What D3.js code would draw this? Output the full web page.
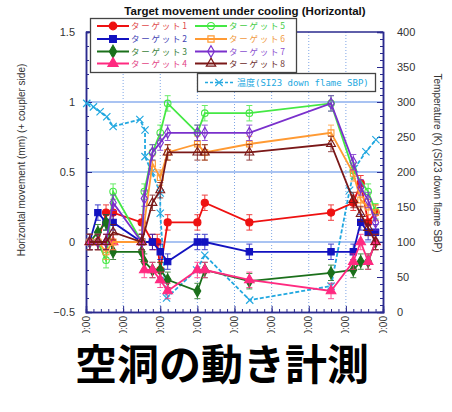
<!DOCTYPE html>
<html>
<head>
<meta charset="utf-8">
<script src="https://cdn.jsdelivr.net/npm/d3@7"></script>
<style>
  body { margin: 0; background: #fff; }
  svg { display: block; }
</style>
</head>
<body>
<svg id="chart" width="452" height="412"></svg>
<script>
// measurement times, in x tick units
const times = [0.1, 0.32, 0.54, 0.73, 1.5, 1.57, 1.79, 1.92, 2.0, 2.2, 3.0, 3.2, 4.4, 6.6, 7.2, 7.4, 7.6, 7.8];

const target1 = [0, 0, 0.21, 0.21, 0.14, null, 0, 0, -0.2, 0.14, 0.14, 0.28, 0.14, 0.21, 0.28, 0.42, 0.14, 0.21];
const target2 = [0, 0.21, 0.14, 0.14, 0, null, 0, null, -0.07, -0.14, 0, 0, -0.07, -0.07, -0.07, 0.14, 0.07, 0.07];
const target3 = [0, 0.07, 0.14, -0.07, -0.07, -0.14, -0.2, null, -0.2, -0.27, -0.35, -0.2, -0.28, -0.22, -0.2, -0.14, -0.14, 0];
const target4 = [0, 0, 0, 0, 0, -0.2, -0.2, null, -0.27, -0.35, -0.2, -0.2, -0.27, -0.35, -0.14, 0, -0.14, 0];
const target5 = [0, 0, -0.13, 0.36, 0, 0.36, 0.64, null, 0.78, 0.99, 0.78, 0.92, 0.92, 0.99, 0.51, null, 0.36, 0.22];
const target6 = [0, 0, -0.07, 0, 0, null, 0.56, null, 0.46, 0.64, 0.70, 0.64, 0.70, 0.78, 0.49, 0.3, 0.25, 0.21];
const target7 = [0, 0, 0, 0.28, 0, 0.31, 0.64, null, 0.71, 0.78, 0.78, 0.78, 0.78, 0.99, 0.57, 0.39, 0.3, 0.14];
const target8 = [0, 0, 0, 0.07, 0, null, 0.28, null, 0.37, 0.64, 0.64, 0.64, 0.64, 0.70, 0.3, 0.2, 0.1, 0];
const errBar = 0.055;

// temperature (K), right axis
const tempTimes = [0.02, 0.2, 0.38, 0.56, 0.73, 1.45, 1.59, 1.59, 1.77, 2.0, 2.0, 2.12, 2.17, 2.98, 3.2, 4.41, 6.6, 7.1, 7.23, 7.54, 7.81];
const tempK = [298, 293, 286, 279, 265, 275, 260, 222, 200, 170, 141, 46, 20, 60, 81, 17, 37, 174, 205, 229, 246];

const seriesNames = ["ターゲット1", "ターゲット2", "ターゲット3", "ターゲット4", "ターゲット5", "ターゲット6", "ターゲット7", "ターゲット8"];
const tempName = "温度(SI23 down flame SBP)";

const xTickLabels = ["2008/02/18 00:00", "2008/02/19 00:00", "2008/02/20 00:00", "2/21 00:00", "2/22 00:00",
  "2008/02/23 00:00", "2008/02/24 00:00", "2008/02/25 00:00", "2008/02/26 00:00"];
const yTicks = [-0.5, 0, 0.5, 1, 1.5];
const tTicks = [0, 50, 100, 150, 200, 250, 300, 350, 400];

const title = "Target movement under cooling (Horizontal)";
const yTitle = "Horizontal movement (mm) (+ coupler side)";
const tTitle = "Temperature (K) (SI23 down flame SBP)";
const bigText = "空洞の動き計測";

const colors = ["#ee1111", "#1212c0", "#1b701b", "#ff2a80", "#44e844", "#ff9a33", "#7a30cc", "#7a1818"];
const textColors = ["#e04a4a", "#4444b4", "#3a7f3a", "#e24486", "#44cc44", "#f09a40", "#8a50d0", "#6a2a2a"];
const symbols = [d3.symbolCircle, d3.symbolSquare, d3.symbolDiamond, d3.symbolTriangle,
  d3.symbolCircle, d3.symbolSquare, d3.symbolDiamond, d3.symbolTriangle];
const filled = [true, true, true, true, false, false, false, false];
const tempColor = "#22a8e0";

const allTargets = [target1, target2, target3, target4, target5, target6, target7, target8];

const svg = d3.select("#chart");
const pLeft = 86, pRight = 383, pTop = 32, pBottom = 312;

const x = d3.scaleLinear().domain([0, 8]).range([pLeft, pRight]);
const y = d3.scaleLinear().domain([-0.5, 1.5]).range([pBottom, pTop]);
const yT = d3.scaleLinear().domain([0, 400]).range([pBottom, pTop]);

// grid
svg.append("g").selectAll("line")
  .data(d3.range(1, 8))
  .enter().append("line")
  .attr("x1", d => x(d)).attr("x2", d => x(d))
  .attr("y1", pTop).attr("y2", pBottom)
  .attr("stroke", "#7fa6e6").attr("stroke-width", 1)
  .attr("stroke-dasharray", "1,2");

svg.append("g").selectAll("line")
  .data([0, 0.5, 1])
  .enter().append("line")
  .attr("x1", pLeft).attr("x2", pRight)
  .attr("y1", d => y(d)).attr("y2", d => y(d))
  .attr("stroke", "#a9c3f2").attr("stroke-width", 2);

// axes
const axisColor = "#2a2a8e";
function styleAxis(g) {
  g.select(".domain").attr("stroke", axisColor).attr("stroke-width", 1.5);
  g.selectAll(".tick line").attr("stroke", axisColor);
  g.selectAll("text").attr("fill", "#333").attr("font-family", "Liberation Sans, Arial, sans-serif");
}

svg.append("g").attr("transform", `translate(${pLeft},0)`)
  .call(d3.axisLeft(y).tickValues(d3.range(-0.5, 1.51, 0.1)).tickSize(-3).tickFormat(""))
  .call(styleAxis);
svg.append("g").attr("transform", `translate(${pLeft},0)`)
  .call(d3.axisLeft(y).tickValues(yTicks).tickSize(-6).tickPadding(11).tickFormat(d3.format("")))
  .call(styleAxis)
  .call(g => g.selectAll("text").attr("font-size", 11));

svg.append("g").attr("transform", `translate(${pRight},0)`)
  .call(d3.axisRight(yT).tickValues(d3.range(0, 401, 10)).tickSize(-3).tickFormat(""))
  .call(styleAxis);
svg.append("g").attr("transform", `translate(${pRight},0)`)
  .call(d3.axisRight(yT).tickValues(tTicks).tickSize(-6).tickPadding(14))
  .call(styleAxis)
  .call(g => g.selectAll("text").attr("font-size", 11));

svg.append("g").attr("transform", `translate(0,${pBottom})`)
  .call(d3.axisBottom(x).tickValues(d3.range(0, 8.01, 0.2)).tickSize(-3).tickFormat(""))
  .call(styleAxis);
svg.append("g").attr("transform", `translate(0,${pBottom})`)
  .call(d3.axisBottom(x).tickValues(d3.range(0, 9)).tickSize(-6).tickFormat(""))
  .call(styleAxis);

svg.append("line")
  .attr("x1", pLeft).attr("x2", pRight).attr("y1", pTop).attr("y2", pTop)
  .attr("stroke", axisColor).attr("stroke-width", 1.5);

// rotated x tick labels
svg.append("g").selectAll("text")
  .data(xTickLabels)
  .enter().append("text")
  .attr("transform", (d, i) => `translate(${x(i) + 3.5},316) rotate(-90)`)
  .attr("text-anchor", "end")
  .attr("font-size", 10)
  .attr("font-family", "Liberation Sans, Arial, sans-serif")
  .attr("fill", "#333")
  .text(d => d);

// titles
svg.append("text")
  .attr("x", 245).attr("y", 15)
  .attr("text-anchor", "middle")
  .attr("font-size", 11.5).attr("font-weight", "bold")
  .attr("font-family", "Liberation Sans, Arial, sans-serif")
  .attr("fill", "#111")
  .text(title);

svg.append("text")
  .attr("transform", "translate(25,160) rotate(-90)")
  .attr("text-anchor", "middle")
  .attr("font-size", 10)
  .attr("font-family", "Liberation Sans, Arial, sans-serif")
  .attr("fill", "#333")
  .text(yTitle);

svg.append("text")
  .attr("transform", "translate(434,163) rotate(90)")
  .attr("text-anchor", "middle")
  .attr("font-size", 10)
  .attr("font-family", "Liberation Sans, Arial, sans-serif")
  .attr("fill", "#333")
  .text(tTitle);

// temperature line
const tempPts = tempTimes.map((t, i) => ({ t, v: tempK[i] }));
svg.append("path")
  .datum(tempPts)
  .attr("fill", "none")
  .attr("stroke", tempColor)
  .attr("stroke-width", 1.8)
  .attr("stroke-dasharray", "4,2")
  .attr("d", d3.line().x(d => x(d.t)).y(d => yT(d.v)));

const cross = d3.symbol().type(d3.symbolX).size(36);
svg.append("g").selectAll("path")
  .data(tempPts)
  .enter().append("path")
  .attr("transform", d => `translate(${x(d.t)},${yT(d.v)})`)
  .attr("d", cross)
  .attr("fill", "none")
  .attr("stroke", tempColor)
  .attr("stroke-width", 1.2);

// target series
const line = d3.line().x(d => x(d.t)).y(d => y(d.v));
allTargets.forEach((vals, k) => {
  const pts = times.map((t, i) => ({ t, v: vals[i] })).filter(d => d.v !== null);
  const g = svg.append("g");
  g.append("path")
    .datum(pts)
    .attr("fill", "none")
    .attr("stroke", colors[k])
    .attr("stroke-width", 1.8)
    .attr("d", line);

  const eb = g.selectAll(".eb").data(pts).enter().append("g").attr("class", "eb")
    .attr("stroke", colors[k]).attr("stroke-width", 1).attr("opacity", 0.8);
  eb.append("line")
    .attr("x1", d => x(d.t)).attr("x2", d => x(d.t))
    .attr("y1", d => y(d.v - errBar)).attr("y2", d => y(d.v + errBar));
  eb.append("line")
    .attr("x1", d => x(d.t) - 3).attr("x2", d => x(d.t) + 3)
    .attr("y1", d => y(d.v + errBar)).attr("y2", d => y(d.v + errBar));
  eb.append("line")
    .attr("x1", d => x(d.t) - 3).attr("x2", d => x(d.t) + 3)
    .attr("y1", d => y(d.v - errBar)).attr("y2", d => y(d.v - errBar));

  g.selectAll(".mk").data(pts).enter().append("path").attr("class", "mk")
    .attr("transform", d => `translate(${x(d.t)},${y(d.v)})`)
    .attr("d", d3.symbol().type(symbols[k]).size(filled[k] ? 40 : 34))
    .attr("fill", filled[k] ? colors[k] : "none")
    .attr("stroke", colors[k])
    .attr("stroke-width", 1.1);
});

// legend
const legend = svg.append("g");
legend.append("rect")
  .attr("x", 90.5).attr("y", 18.5).attr("width", 206).attr("height", 54)
  .attr("fill", "#fff").attr("stroke", "#444").attr("stroke-width", 1.3);
const rowY = [26, 39, 51.5, 63.5];
seriesNames.forEach((name, k) => {
  const col = Math.floor(k / 4), row = k % 4;
  const x0 = col === 0 ? 97 : 195;
  const yy = rowY[row];
  legend.append("line")
    .attr("x1", x0).attr("x2", x0 + 32).attr("y1", yy).attr("y2", yy)
    .attr("stroke", colors[k]).attr("stroke-width", 2);
  legend.append("path")
    .attr("transform", `translate(${x0 + 16},${yy})`)
    .attr("d", d3.symbol().type(symbols[k]).size(filled[k] ? 45 : 38))
    .attr("fill", filled[k] ? colors[k] : "none")
    .attr("stroke", colors[k]).attr("stroke-width", 1.2);
  legend.append("text")
    .attr("x", x0 + 34).attr("y", yy + 3.2)
    .attr("font-size", 8.5)
    .attr("textLength", 56)
    .attr("lengthAdjust", "spacing")
    .attr("font-family", "Noto Sans CJK JP, sans-serif")
    .attr("fill", textColors[k])
    .text(name);
});

// temperature legend
const tl = svg.append("g");
tl.append("rect")
  .attr("x", 197.5).attr("y", 73.5).attr("width", 178).attr("height", 18)
  .attr("fill", "#fff").attr("stroke", "#444").attr("stroke-width", 1.3);
tl.append("line")
  .attr("x1", 205).attr("x2", 233).attr("y1", 82.5).attr("y2", 82.5)
  .attr("stroke", tempColor).attr("stroke-width", 1.5).attr("stroke-dasharray", "3,2");
tl.append("path")
  .attr("transform", "translate(219,82.5)")
  .attr("d", cross)
  .attr("fill", "none").attr("stroke", tempColor).attr("stroke-width", 1.2);
tl.append("text")
  .attr("x", 237).attr("y", 86)
  .attr("font-size", 9)
  .attr("font-family", "DejaVu Sans Mono, Noto Sans CJK JP, monospace")
  .attr("fill", tempColor)
  .text(tempName);

// overlay caption
svg.append("rect")
  .attr("x", 0).attr("y", 333).attr("width", 452).attr("height", 61)
  .attr("fill", "#fff");
svg.append("text")
  .attr("x", 222).attr("y", 380)
  .attr("text-anchor", "middle")
  .attr("font-size", 42).attr("font-weight", "bold")
  .attr("font-family", "Noto Sans CJK JP, sans-serif")
  .attr("fill", "#000")
  .text(bigText);
</script>
</body>
</html>
